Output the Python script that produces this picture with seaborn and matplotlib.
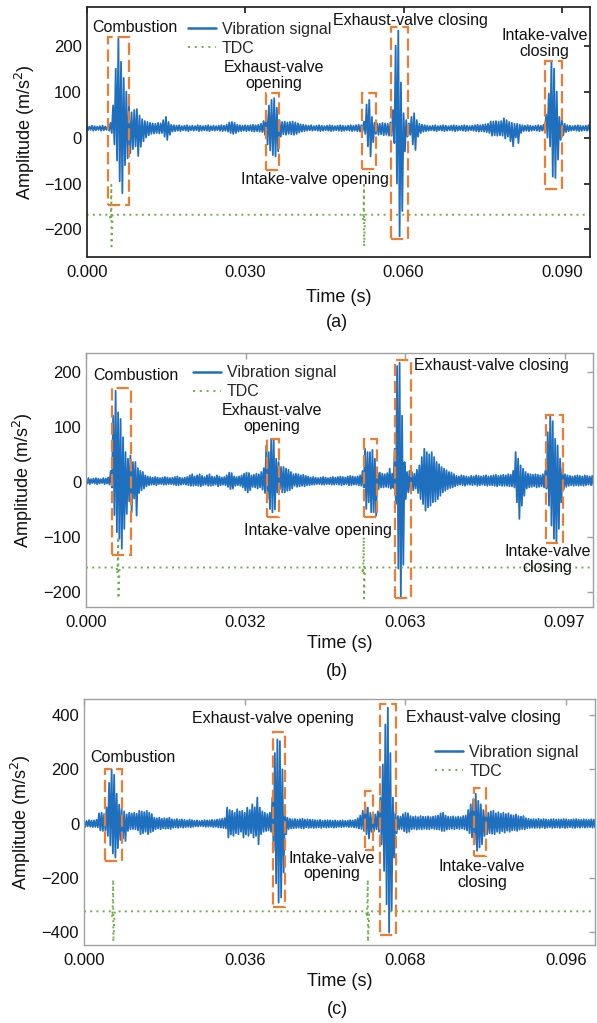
import numpy as np
import pandas as pd
import matplotlib
matplotlib.use("Agg")
import matplotlib.pyplot as plt
from matplotlib.patches import Rectangle
from matplotlib.lines import Line2D
import seaborn as sns

sns.set_theme(style="white")
plt.rcParams["font.family"] = ["Liberation Sans", "DejaVu Sans"]
plt.rcParams["axes.unicode_minus"] = True

# ---------------- data (envelope of vibration signal, sampled every 0.5 ms) ----------------
DT = 0.0005

sig_a_hi = [25, 24, 26, 25, 24, 25, 26, 24, 25, 32,
            70, 150, 216, 165, 130, 100, 70, 55, 60, 62,
            48, 40, 36, 34, 32, 31, 30, 32, 31, 38,
            45, 34, 28, 27, 26, 27, 25, 26, 27, 25,
            26, 25, 27, 26, 25, 26, 27, 25, 26, 25,
            26, 27, 26, 28, 33, 34, 32, 28, 27, 26,
            27, 26, 27, 28, 27, 28, 30, 36, 50, 70,
            82, 86, 65, 38, 34, 35, 33, 34, 35, 33,
            31, 29, 28, 27, 26, 27, 25, 26, 27, 26,
            25, 26, 27, 26, 25, 26, 27, 26, 25, 26,
            27, 26, 27, 28, 27, 35, 72, 82, 45, 32,
            31, 30, 32, 31, 30, 33, 60, 200, 233, 120,
            53, 38, 31, 45, 53, 38, 30, 28, 27, 26,
            25, 26, 27, 25, 26, 27, 26, 25, 26, 27,
            26, 25, 26, 27, 26, 25, 26, 27, 28, 27,
            28, 29, 30, 35, 35, 36, 35, 36, 42, 38,
            34, 32, 30, 30, 28, 27, 26, 27, 26, 25,
            26, 27, 26, 28, 50, 96, 166, 150, 100, 45,
            38, 30, 27, 26, 25, 26, 27, 26, 25, 26, 27]
sig_a_lo = [16, 17, 15, 16, 17, 15, 16, 17, 15, 10,
            -15, -50, -95, -121, -60, -45, -34, -25, -19, -40,
            -20, -8, 0, 5, 8, 9, 10, 9, 10, 2,
            -5, 6, 13, 14, 15, 14, 16, 15, 14, 16,
            15, 16, 14, 15, 16, 15, 14, 16, 15, 16,
            15, 14, 15, 13, 10, 8, 10, 13, 14, 15,
            14, 15, 14, 13, 14, 13, 12, 6, -15, -28,
            -38, -41, -30, 2, 7, 6, 8, 7, 6, 8,
            11, 13, 14, 15, 16, 15, 16, 15, 14, 15,
            16, 15, 14, 15, 16, 15, 14, 15, 16, 15,
            14, 15, 14, 13, 14, 8, -19, -41, -10, 8,
            6, 7, 5, 6, 4, 4, -12, -100, -215, -160,
            -30, 2, 6, -15, -27, 2, 10, 13, 14, 15,
            16, 15, 14, 16, 15, 14, 15, 16, 15, 14,
            15, 16, 15, 14, 15, 16, 15, 14, 13, 14,
            13, 12, 10, 4, 5, 4, 5, 4, -2, 2,
            -8, -19, 0, -12, 10, 14, 15, 14, 15, 16,
            15, 14, 15, 13, 0, -19, -85, -88, -48, -5,
            5, 12, 14, 15, 16, 15, 14, 15, 16, 15, 14]

sig_b_hi = [6, 7, 5, 6, 7, 6, 5, 7, 6, 8,
            20, 120, 165, 126, 114, 81, 54, 42, 48, 36,
            36, 25, 20, 18, 12, 10, 9, 8, 9, 8,
            7, 8, 9, 8, 7, 8, 9, 10, 8, 7,
            8, 9, 12, 14, 10, 12, 14, 11, 9, 12,
            14, 10, 9, 12, 10, 8, 9, 12, 17, 16,
            10, 9, 10, 12, 15, 17, 16, 12, 13, 15,
            14, 18, 25, 66, 54, 78, 76, 42, 36, 27,
            27, 24, 22, 18, 14, 15, 14, 12, 13, 11,
            10, 8, 9, 8, 7, 8, 9, 8, 7, 8,
            9, 8, 9, 10, 9, 8, 10, 11, 10, 9,
            10, 12, 20, 60, 54, 54, 58, 42, 17, 17,
            15, 14, 16, 24, 15, 60, 210, 216, 120, 36,
            18, 20, 18, 15, 22, 30, 45, 60, 54, 50,
            54, 45, 36, 32, 27, 24, 21, 18, 17, 14,
            11, 10, 12, 11, 10, 9, 11, 10, 12, 11,
            10, 11, 12, 10, 11, 12, 13, 11, 12, 13,
            12, 14, 13, 20, 54, 42, 30, 24, 18, 15,
            14, 13, 14, 13, 12, 14, 20, 90, 120, 110,
            78, 66, 42, 24, 14, 12, 11, 10, 11, 12,
            11, 10, 12, 11, 10, 11]
sig_b_lo = [-3, -4, -2, -3, -4, -3, -2, -4, -3, -5,
            -10, -60, -91, -103, -121, -85, -58, -35, -55, -30,
            -61, -20, -15, -12, -8, -6, -5, -5, -6, -4,
            -4, -5, -5, -4, -4, -5, -6, -6, -5, -4,
            -5, -6, -7, -7, -6, -7, -8, -6, -5, -7,
            -7, -6, -5, -8, -6, -5, -6, -9, -13, -12,
            -7, -6, -7, -10, -15, -19, -15, -9, -10, -12,
            -10, -14, -20, -31, -49, -55, -50, -19, -13, -19,
            -19, -16, -15, -12, -7, -9, -8, -7, -8, -6,
            -6, -5, -5, -4, -4, -5, -5, -4, -4, -5,
            -5, -4, -5, -6, -5, -4, -6, -6, -5, -5,
            -6, -7, -10, -49, -37, -55, -55, -61, -13, -10,
            -10, -9, -10, -12, -11, -40, -157, -211, -150, -31,
            -19, -18, -15, -12, -20, -31, -40, -52, -46, -43,
            -37, -35, -31, -25, -19, -16, -13, -11, -10, -8,
            -6, -5, -6, -7, -5, -5, -6, -5, -7, -6,
            -5, -6, -7, -6, -6, -7, -8, -6, -7, -7,
            -7, -8, -8, -10, -37, -67, -43, -25, -12, -10,
            -9, -8, -10, -9, -8, -10, -12, -43, -79, -103,
            -109, -85, -37, -13, -9, -7, -6, -7, -6, -7,
            -6, -7, -6, -5, -6, -6]

sig_c_hi = [12, 10, 13, 11, 12, 14, 38, 40, 35, 60,
            150, 200, 180, 110, 70, 55, 45, 34, 40, 38,
            40, 36, 47, 45, 42, 47, 40, 35, 22, 20,
            22, 18, 20, 19, 22, 16, 15, 17, 14, 16,
            14, 12, 15, 13, 11, 12, 10, 11, 13, 12,
            12, 14, 13, 15, 16, 18, 20, 59, 50, 47,
            40, 53, 45, 47, 40, 59, 50, 71, 60, 96,
            59, 45, 40, 35, 40, 96, 260, 310, 304, 200,
            47, 22, 18, 16, 17, 15, 16, 18, 15, 16,
            15, 14, 13, 12, 14, 11, 12, 13, 12, 11,
            12, 10, 11, 12, 10, 11, 13, 12, 14, 20,
            30, 47, 65, 59, 40, 34, 34, 45, 96, 218,
            365, 427, 260, 96, 40, 28, 26, 35, 40, 38,
            28, 25, 27, 24, 28, 26, 25, 27, 24, 26,
            28, 30, 38, 40, 30, 26, 25, 27, 24, 26,
            24, 28, 30, 50, 71, 90, 110, 84, 71, 50,
            47, 40, 45, 47, 38, 42, 36, 40, 35, 38,
            32, 30, 34, 28, 26, 28, 20, 18, 16, 17,
            16, 18, 15, 17, 16, 14, 16, 17, 15, 16,
            15, 17, 16, 14, 15, 16, 17, 15, 14, 16,
            15, 14, 16, 15]
sig_c_lo = [-12, -10, -11, -13, -12, -14, -25, -27, -25, -45,
            -80, -110, -125, -90, -60, -55, -64, -27, -21, -20,
            -21, -25, -39, -35, -30, -39, -32, -28, -21, -18,
            -21, -17, -19, -18, -20, -15, -14, -16, -13, -15,
            -13, -12, -14, -12, -10, -11, -9, -10, -12, -11,
            -11, -13, -12, -14, -15, -16, -18, -51, -40, -45,
            -35, -39, -30, -51, -40, -45, -35, -51, -45, -76,
            -39, -30, -27, -25, -30, -100, -220, -291, -272, -180,
            -39, -20, -18, -17, -16, -15, -17, -18, -14, -16,
            -15, -16, -15, -14, -16, -13, -15, -14, -13, -15,
            -14, -12, -13, -12, -11, -13, -12, -14, -15, -18,
            -20, -27, -39, -55, -30, -27, -21, -30, -76, -174,
            -297, -401, -321, -125, -35, -21, -20, -28, -33, -30,
            -21, -19, -22, -20, -21, -19, -20, -21, -18, -20,
            -21, -22, -27, -27, -22, -20, -19, -21, -18, -20,
            -18, -21, -25, -35, -51, -76, -100, -88, -76, -45,
            -39, -35, -37, -39, -30, -35, -28, -33, -26, -30,
            -25, -24, -27, -22, -20, -21, -17, -16, -15, -16,
            -15, -16, -14, -17, -15, -13, -16, -15, -14, -16,
            -14, -16, -15, -13, -15, -16, -14, -15, -13, -15,
            -14, -13, -15, -14]

# TDC reference signal (time, value)
tdc_a_t = [0.0, 0.0044, 0.00452, 0.00460, 0.00466, 0.00470, 0.0049,
           0.0522, 0.05234, 0.05242, 0.05249, 0.05253, 0.0527, 0.0953]
tdc_a_v = [-168, -168, -180, -158, -103, -237, -168,
           -168, -180, -158, -103, -237, -168, -168]
tdc_b_t = [0.0, 0.0062, 0.00634, 0.00643, 0.00652, 0.00656, 0.0068,
           0.0559, 0.05606, 0.05615, 0.05625, 0.05629, 0.0565, 0.1026]
tdc_b_v = [-155, -155, -166, -145, -100, -211, -155,
           -155, -166, -145, -100, -211, -155, -155]
tdc_c_t = [0.0, 0.0055, 0.00563, 0.00572, 0.00581, 0.00585, 0.0061,
           0.0562, 0.05632, 0.05641, 0.05650, 0.05654, 0.0568, 0.1018]
tdc_c_v = [-323, -323, -345, -305, -206, -435, -323,
           -323, -345, -305, -206, -435, -323, -323]

# Event windows: start time, end time, lower, upper amplitude
events = ["Combustion", "Exhaust-valve opening", "Intake-valve opening",
          "Exhaust-valve closing", "Intake-valve closing"]
box_a_t0 = [0.00409, 0.03395, 0.05219, 0.05768, 0.08684]
box_a_t1 = [0.00807, 0.03647, 0.05473, 0.06084, 0.09000]
box_a_lo = [-147, -70, -69, -221, -112]
box_a_hi = [218, 98, 98, 240, 167]
box_b_t0 = [0.0052, 0.03657, 0.05621, 0.06248, 0.09316]
box_b_t1 = [0.0091, 0.03912, 0.0589, 0.06572, 0.09654]
box_b_lo = [-133, -63, -63, -211, -110]
box_b_hi = [170, 77, 77, 220, 121]
box_c_t0 = [0.00418, 0.03767, 0.05598, 0.05884, 0.07755]
box_c_t1 = [0.00762, 0.0400, 0.05751, 0.06209, 0.0800]
box_c_lo = [-139, -308, -98, -412, -121]
box_c_hi = [202, 338, 119, 441, 131]

# Annotation labels (text, x, y, ha)
labels_a = [("Combustion", 0.00915, 239, "center"),
            ("Exhaust-valve\nopening", 0.03547, 135.5, "center"),
            ("Intake-valve opening", 0.04327, -92, "center"),
            ("Exhaust-valve closing", 0.06135, 256, "center"),
            ("Intake-valve\nclosing", 0.08669, 204.5, "center")]
labels_b = [("Combustion", 0.01018, 193, "center"),
            ("Exhaust-valve\nopening", 0.03765, 115, "center"),
            ("Intake-valve opening", 0.0470, -87.5, "center"),
            ("Exhaust-valve closing", 0.06645, 211, "left"),
            ("Intake-valve\nclosing", 0.0935, -140, "center")]
labels_c = [("Combustion", 0.00975, 244, "center"),
            ("Exhaust-valve opening", 0.03771, 389, "center"),
            ("Intake-valve\nopening", 0.04925, -156, "center"),
            ("Exhaust-valve closing", 0.06414, 390, "left"),
            ("Intake-valve\nclosing", 0.07924, -188, "center")]

xticks_a = [0.0, 0.030, 0.060, 0.090]
xticklabels_a = ["0.000", "0.030", "0.060", "0.090"]
xticks_b = [0.0, 0.0323, 0.0646, 0.0969]
xticklabels_b = ["0.000", "0.032", "0.063", "0.097"]
xticks_c = [0.0, 0.032, 0.064, 0.096]
xticklabels_c = ["0.000", "0.036", "0.068", "0.096"]
yticks_a = [-200, -100, 0, 100, 200]
yticks_b = [-200, -100, 0, 100, 200]
yticks_c = [-400, -200, 0, 200, 400]

# ---------------- styling ----------------
BLUE = "#1f6fbf"
ORANGE = "#ED7D31"
GREEN = "#70AD47"
W, H = 597, 1023

fig = plt.figure(figsize=(W / 100, H / 100), dpi=100)

panels = [
    dict(hi=sig_a_hi, lo=sig_a_lo, tt=tdc_a_t, tv=tdc_a_v,
         b0=box_a_t0, b1=box_a_t1, blo=box_a_lo, bhi=box_a_hi, labels=labels_a,
         rect=[86.7, 6.7, 590, 257], xlim=(0, 0.0953), ylim=(-260, 285),
         xt=xticks_a, xtl=xticklabels_a, yt=yticks_a, spine="#2b2b2b", slw=1.3,
         leg=(188, 22), xlab=297, ylab=25, letter="(a)", lety=323),
    dict(hi=sig_b_hi, lo=sig_b_lo, tt=tdc_b_t, tv=tdc_b_v,
         b0=box_b_t0, b1=box_b_t1, blo=box_b_lo, bhi=box_b_hi, labels=labels_b,
         rect=[86, 353.3, 592.7, 606.7], xlim=(0, 0.1026), ylim=(-226, 233),
         xt=xticks_b, xtl=xticklabels_b, yt=yticks_b, spine="#a0a0a0", slw=1.0,
         leg=(192.7, 365.3), xlab=643, ylab=22.5, letter="(b)", lety=671.7),
    dict(hi=sig_c_hi, lo=sig_c_lo, tt=tdc_c_t, tv=tdc_c_v,
         b0=box_c_t0, b1=box_c_t1, blo=box_c_lo, bhi=box_c_hi, labels=labels_c,
         rect=[84, 699, 595.3, 945], xlim=(0, 0.1018), ylim=(-447, 459),
         xt=xticks_c, xtl=xticklabels_c, yt=yticks_c, spine="#a0a0a0", slw=1.0,
         leg=(435.3, 744.7), xlab=982, ylab=21, letter="(c)", lety=1010),
]

for p in panels:
    l, t, r, b = p["rect"]
    ax = fig.add_axes([l / W, 1 - b / H, (r - l) / W, (b - t) / H])
    hi = np.asarray(p["hi"], float)
    lo = np.asarray(p["lo"], float)
    ts = np.arange(len(hi)) * DT
    df = pd.DataFrame({"t": np.column_stack([ts, ts + DT / 2]).ravel(),
                       "a": np.column_stack([hi, lo]).ravel()})
    sns.lineplot(data=df, x="t", y="a", ax=ax, sort=False, estimator=None,
                 color=BLUE, linewidth=1.3, legend=False)
    tdf = pd.DataFrame({"t": p["tt"], "a": p["tv"]})
    sns.lineplot(data=tdf, x="t", y="a", ax=ax, sort=False, estimator=None,
                 color=GREEN, linewidth=1.4, linestyle=(0, (1, 2.2)), legend=False)

    for t0, t1, ylo, yhi in zip(p["b0"], p["b1"], p["blo"], p["bhi"]):
        ax.add_patch(Rectangle((t0, ylo), t1 - t0, yhi - ylo, fill=False,
                               edgecolor=ORANGE, linewidth=1.6,
                               linestyle=(0, (5.5, 2.2)), zorder=4))
    for txt, x, y, ha in p["labels"]:
        ax.text(x, y, txt, ha=ha, va="center", fontsize=11.5, linespacing=1.05,
                color="#111111", zorder=5)

    ax.set_xlim(*p["xlim"])
    ax.set_ylim(*p["ylim"])
    ax.set_xticks(p["xt"])
    ax.set_xticklabels(p["xtl"])
    ax.set_yticks(p["yt"])
    ax.tick_params(direction="in", top=True, right=True, length=4,
                   width=p["slw"], color=p["spine"], labelsize=12,
                   labelcolor="#111111")
    ax.tick_params(axis="x", pad=6)
    ax.tick_params(axis="y", pad=3.5)
    for s in ax.spines.values():
        s.set_color(p["spine"])
        s.set_linewidth(p["slw"])
        s.set_visible(True)

    ax.set_xlabel("Time (s)", fontsize=13, color="#111111")
    ax.xaxis.label.set_va("center")
    ax.xaxis.set_label_coords(0.5, -(p["xlab"] - b) / (b - t))
    ax.set_ylabel("Amplitude (m/s$^2$)", fontsize=13, color="#111111")
    ax.yaxis.label.set_va("center")
    ax.yaxis.set_label_coords((p["ylab"] - l) / (r - l), 0.5)

    handles = [Line2D([], [], color=BLUE, linewidth=1.8),
               Line2D([], [], color=GREEN, linewidth=1.4, linestyle=(0, (1, 2.5)))]
    lx, ly = p["leg"]
    ax.legend(handles, ["Vibration signal", "TDC"], loc="upper left",
              bbox_to_anchor=((lx - l) / (r - l), 1 - (ly - t) / (b - t)),
              frameon=False, borderpad=0, borderaxespad=0, handlelength=1.75,
              handletextpad=0.38, labelspacing=0.25, fontsize=11.5)

    fig.text(337 / W, 1 - p["lety"] / H, p["letter"], ha="center", va="center",
             fontsize=13, color="#111111")

fig.savefig("out.png", dpi=100)
